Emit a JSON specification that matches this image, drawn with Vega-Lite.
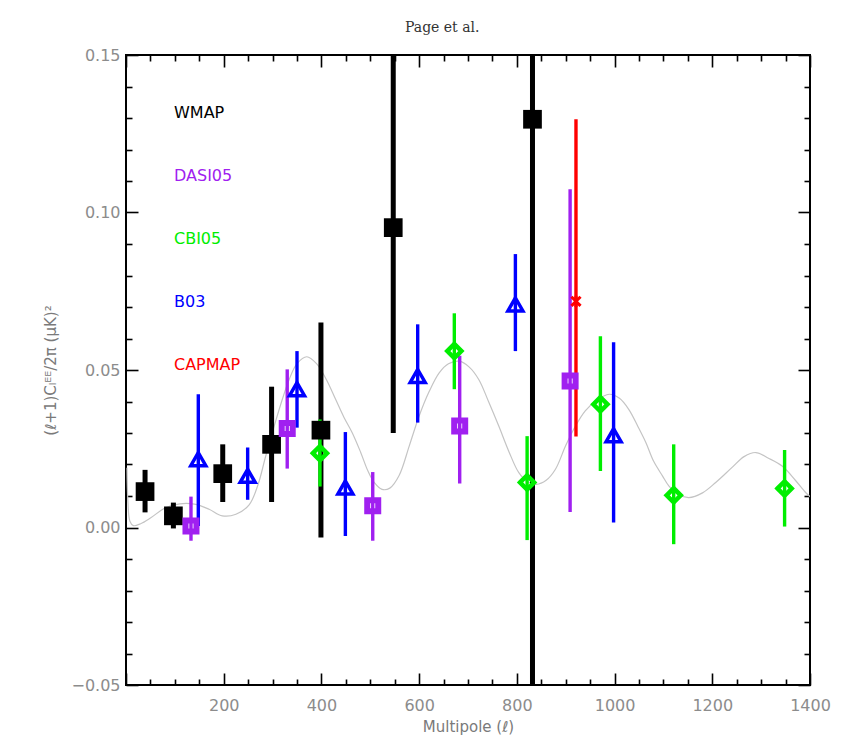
{
  "$schema": "https://vega.github.io/schema/vega-lite/v6.json",
  "width": 684,
  "height": 630,
  "autosize": {"type": "none"},
  "padding": {"left": 126, "top": 55, "right": 49, "bottom": 51},
  "background": "white",
  "title": {"text": "Page et al.", "anchor": "start", "frame": "group", "dx": 279, "offset": 12, "font": "DejaVu Serif", "fontSize": 14, "fontWeight": "normal", "color": "#333333"},
  "config": {
    "view": {"stroke": "black", "strokeWidth": 2},
    "axis": {"domain": false, "grid": false, "labelFlush": false, "tickColor": "black", "tickWidth": 1.6, "labelFont": "DejaVu Sans", "labelFontSize": 16, "labelColor": "#8c8c8c", "titleFont": "DejaVu Sans", "titleFontSize": 15, "titleColor": "#7a7a7a", "titleFontWeight": "normal"}
  },
  "datasets": {
    "model": [
      {"l": 2, "cl": 0.019}, {"l": 4, "cl": 0.008}, {"l": 8, "cl": 0.002}, {"l": 15, "cl": 0.0006},
      {"l": 30, "cl": 0.0012}, {"l": 50, "cl": 0.003}, {"l": 80, "cl": 0.0062}, {"l": 110, "cl": 0.0075},
      {"l": 140, "cl": 0.0074}, {"l": 170, "cl": 0.0058}, {"l": 197, "cl": 0.0037}, {"l": 225, "cl": 0.0042},
      {"l": 252, "cl": 0.0072}, {"l": 270, "cl": 0.0135}, {"l": 286, "cl": 0.0227}, {"l": 303, "cl": 0.032},
      {"l": 320, "cl": 0.0407}, {"l": 334, "cl": 0.047}, {"l": 350, "cl": 0.052}, {"l": 370, "cl": 0.0542},
      {"l": 390, "cl": 0.052}, {"l": 410, "cl": 0.047}, {"l": 429, "cl": 0.0407}, {"l": 446, "cl": 0.035},
      {"l": 463, "cl": 0.0301}, {"l": 480, "cl": 0.024}, {"l": 495, "cl": 0.018}, {"l": 508, "cl": 0.0143},
      {"l": 524, "cl": 0.0121}, {"l": 540, "cl": 0.0125}, {"l": 559, "cl": 0.0165}, {"l": 580, "cl": 0.026},
      {"l": 600, "cl": 0.0354}, {"l": 620, "cl": 0.043}, {"l": 641, "cl": 0.0491}, {"l": 660, "cl": 0.052},
      {"l": 682, "cl": 0.0528}, {"l": 702, "cl": 0.051}, {"l": 722, "cl": 0.047}, {"l": 742, "cl": 0.04},
      {"l": 763, "cl": 0.0322}, {"l": 784, "cl": 0.024}, {"l": 804, "cl": 0.0174}, {"l": 822, "cl": 0.0145},
      {"l": 840, "cl": 0.0137}, {"l": 860, "cl": 0.015}, {"l": 879, "cl": 0.0185}, {"l": 900, "cl": 0.026},
      {"l": 920, "cl": 0.0322}, {"l": 940, "cl": 0.037}, {"l": 961, "cl": 0.0401}, {"l": 989, "cl": 0.0423},
      {"l": 1010, "cl": 0.041}, {"l": 1029, "cl": 0.0375}, {"l": 1048, "cl": 0.032}, {"l": 1064, "cl": 0.027},
      {"l": 1080, "cl": 0.021}, {"l": 1098, "cl": 0.0164}, {"l": 1111, "cl": 0.0132}, {"l": 1130, "cl": 0.0105},
      {"l": 1152, "cl": 0.0095}, {"l": 1180, "cl": 0.011}, {"l": 1207, "cl": 0.0143}, {"l": 1240, "cl": 0.019},
      {"l": 1265, "cl": 0.0225}, {"l": 1289, "cl": 0.0238}, {"l": 1315, "cl": 0.022}, {"l": 1343, "cl": 0.0195},
      {"l": 1370, "cl": 0.015}, {"l": 1391, "cl": 0.0111}, {"l": 1400, "cl": 0.0098}
    ],
    "obs": [
      {"series": "WMAP", "l": 39, "cl": 0.0114, "lo": 0.0048, "hi": 0.0183},
      {"series": "WMAP", "l": 97, "cl": 0.0037, "lo": -0.0003, "hi": 0.0079},
      {"series": "WMAP", "l": 198, "cl": 0.0171, "lo": 0.0081, "hi": 0.0264},
      {"series": "WMAP", "l": 298, "cl": 0.0264, "lo": 0.0081, "hi": 0.0447},
      {"series": "WMAP", "l": 399, "cl": 0.0309, "lo": -0.0032, "hi": 0.0651},
      {"series": "WMAP", "l": 547, "cl": 0.0952, "lo": 0.03, "hi": 0.17},
      {"series": "WMAP", "l": 832, "cl": 0.1296, "lo": -0.08, "hi": 0.2},
      {"series": "DASI05", "l": 133, "cl": 0.0005, "lo": -0.0042, "hi": 0.0098},
      {"series": "DASI05", "l": 330, "cl": 0.0314, "lo": 0.0187, "hi": 0.0502},
      {"series": "DASI05", "l": 505, "cl": 0.0069, "lo": -0.0042, "hi": 0.0176},
      {"series": "DASI05", "l": 683, "cl": 0.0322, "lo": 0.014, "hi": 0.0545},
      {"series": "DASI05", "l": 909, "cl": 0.0465, "lo": 0.0049, "hi": 0.1074},
      {"series": "CBI05", "l": 397, "cl": 0.0236, "lo": 0.013, "hi": 0.0343},
      {"series": "CBI05", "l": 672, "cl": 0.056, "lo": 0.0439, "hi": 0.068},
      {"series": "CBI05", "l": 821, "cl": 0.0143, "lo": -0.004, "hi": 0.029},
      {"series": "CBI05", "l": 971, "cl": 0.0391, "lo": 0.0179, "hi": 0.0607},
      {"series": "CBI05", "l": 1121, "cl": 0.0102, "lo": -0.0053, "hi": 0.0264},
      {"series": "CBI05", "l": 1348, "cl": 0.0124, "lo": 0.0003, "hi": 0.0246},
      {"series": "B03", "l": 148, "cl": 0.0217, "lo": 0.0005, "hi": 0.0423},
      {"series": "B03", "l": 249, "cl": 0.0164, "lo": 0.0088, "hi": 0.0254},
      {"series": "B03", "l": 350, "cl": 0.0439, "lo": 0.0317, "hi": 0.056},
      {"series": "B03", "l": 449, "cl": 0.0127, "lo": -0.0027, "hi": 0.0303},
      {"series": "B03", "l": 597, "cl": 0.0481, "lo": 0.0333, "hi": 0.0645},
      {"series": "B03", "l": 797, "cl": 0.0708, "lo": 0.056, "hi": 0.0868},
      {"series": "B03", "l": 998, "cl": 0.0293, "lo": 0.0016, "hi": 0.0588},
      {"series": "CAPMAP", "l": 921, "cl": 0.0718, "lo": 0.0289, "hi": 0.1296}
    ]
  },
  "layer": [
    {
      "data": {"name": "model"},
      "mark": {"type": "line", "color": "#c4c4c4", "strokeWidth": 1.2, "interpolate": "catmull-rom", "clip": true},
      "encoding": {
        "x": {"field": "l", "type": "quantitative", "scale": {"domain": [0, 1400], "nice": false, "zero": false},
          "axis": {"orient": "bottom", "values": [0, 200, 400, 600, 800, 1000, 1200, 1400], "format": "d", "tickSize": -12, "labelPadding": 24, "labelExpr": "datum.value == 0 ? '' : datum.label", "title": "Multipole (ℓ)", "titlePadding": 6}},
        "y": {"field": "cl", "type": "quantitative", "scale": {"domain": [-0.05, 0.15], "nice": false, "zero": false},
          "axis": {"orient": "left", "values": [-0.05, 0, 0.05, 0.1, 0.15], "format": ".2f", "tickSize": -12, "labelPadding": 18, "title": "(ℓ+1)Cₗᴱᴱ/2π    (μK)²", "titlePadding": 12}}
      }
    },
    {
      "data": {"name": "obs"},
      "mark": {"type": "rule", "clip": true},
      "encoding": {
        "x": {"field": "l", "type": "quantitative", "scale": {"domain": [0, 1400], "nice": false, "zero": false},
          "axis": {"orient": "bottom", "values": [50, 100, 150, 250, 300, 350, 450, 500, 550, 650, 700, 750, 850, 900, 950, 1050, 1100, 1150, 1250, 1300, 1350], "tickSize": -6, "labels": false, "title": null}},
        "y": {"field": "lo", "type": "quantitative", "scale": {"domain": [-0.05, 0.15], "nice": false, "zero": false},
          "axis": {"orient": "left", "values": [-0.04, -0.03, -0.02, -0.01, 0.01, 0.02, 0.03, 0.04, 0.06, 0.07, 0.08, 0.09, 0.11, 0.12, 0.13, 0.14], "tickSize": -6, "labels": false, "title": null}},
        "y2": {"field": "hi"},
        "color": {"field": "series", "type": "nominal",
          "scale": {"domain": ["WMAP", "DASI05", "CBI05", "B03", "CAPMAP"], "range": ["#000000", "#a020f0", "#00ee00", "#0000ff", "#ff0000"]},
          "legend": {"orient": "none", "legendX": 32, "legendY": 50, "title": null, "symbolOpacity": 0, "symbolSize": 0, "symbolStrokeWidth": 0, "labelOffset": 0, "labelFont": "DejaVu Sans", "labelFontSize": 16, "rowPadding": 47, "padding": 0, "labelLimit": 200,
            "encode": {"labels": {"update": {"fill": {"scale": "color", "field": "value"}}}}}},
        "strokeWidth": {"condition": {"test": "datum.series === 'WMAP'", "value": 5}, "value": 3.4}
      }
    },
    {
      "data": {"name": "obs"},
      "transform": [{"filter": "datum.series === 'WMAP'"}],
      "mark": {"type": "point", "shape": "square", "filled": true, "size": 350, "color": "black", "opacity": 1},
      "encoding": {
        "x": {"field": "l", "type": "quantitative", "scale": {"domain": [0, 1400], "nice": false, "zero": false},
          "axis": {"orient": "top", "values": [0, 200, 400, 600, 800, 1000, 1200, 1400], "tickSize": -12, "labels": false, "title": null}},
        "y": {"field": "cl", "type": "quantitative", "scale": {"domain": [-0.05, 0.15], "nice": false, "zero": false},
          "axis": {"orient": "right", "values": [-0.05, 0, 0.05, 0.1, 0.15], "tickSize": -12, "labels": false, "title": null}}
      }
    },
    {
      "data": {"name": "obs"},
      "transform": [{"filter": "datum.series !== 'WMAP'"}],
      "mark": {"type": "point", "filled": false, "opacity": 1},
      "encoding": {
        "x": {"field": "l", "type": "quantitative", "scale": {"domain": [0, 1400], "nice": false, "zero": false},
          "axis": {"orient": "top", "values": [50, 100, 150, 250, 300, 350, 450, 500, 550, 650, 700, 750, 850, 900, 950, 1050, 1100, 1150, 1250, 1300, 1350], "tickSize": -6, "labels": false, "title": null}},
        "y": {"field": "cl", "type": "quantitative", "scale": {"domain": [-0.05, 0.15], "nice": false, "zero": false},
          "axis": {"orient": "right", "values": [-0.04, -0.03, -0.02, -0.01, 0.01, 0.02, 0.03, 0.04, 0.06, 0.07, 0.08, 0.09, 0.11, 0.12, 0.13, 0.14], "tickSize": -6, "labels": false, "title": null}},
        "color": {"field": "series", "type": "nominal", "legend": null},
        "shape": {"condition": [{"test": "datum.series === 'DASI05'", "value": "square"}, {"test": "datum.series === 'CBI05'", "value": "diamond"}, {"test": "datum.series === 'B03'", "value": "triangle-up"}], "value": "M-0.8,-0.8L0.8,0.8M-0.8,0.8L0.8,-0.8M0,-1L0,1"},
        "size": {"condition": [{"test": "datum.series === 'DASI05'", "value": 121}, {"test": "datum.series === 'CBI05'", "value": 200}, {"test": "datum.series === 'B03'", "value": 225}], "value": 130},
        "strokeWidth": {"condition": [{"test": "datum.series === 'DASI05'", "value": 6}, {"test": "datum.series === 'CBI05'", "value": 4.5}, {"test": "datum.series === 'B03'", "value": 3.5}], "value": 3}
      }
    }
  ],
  "resolve": {"axis": {"x": "independent", "y": "independent"}}
}
